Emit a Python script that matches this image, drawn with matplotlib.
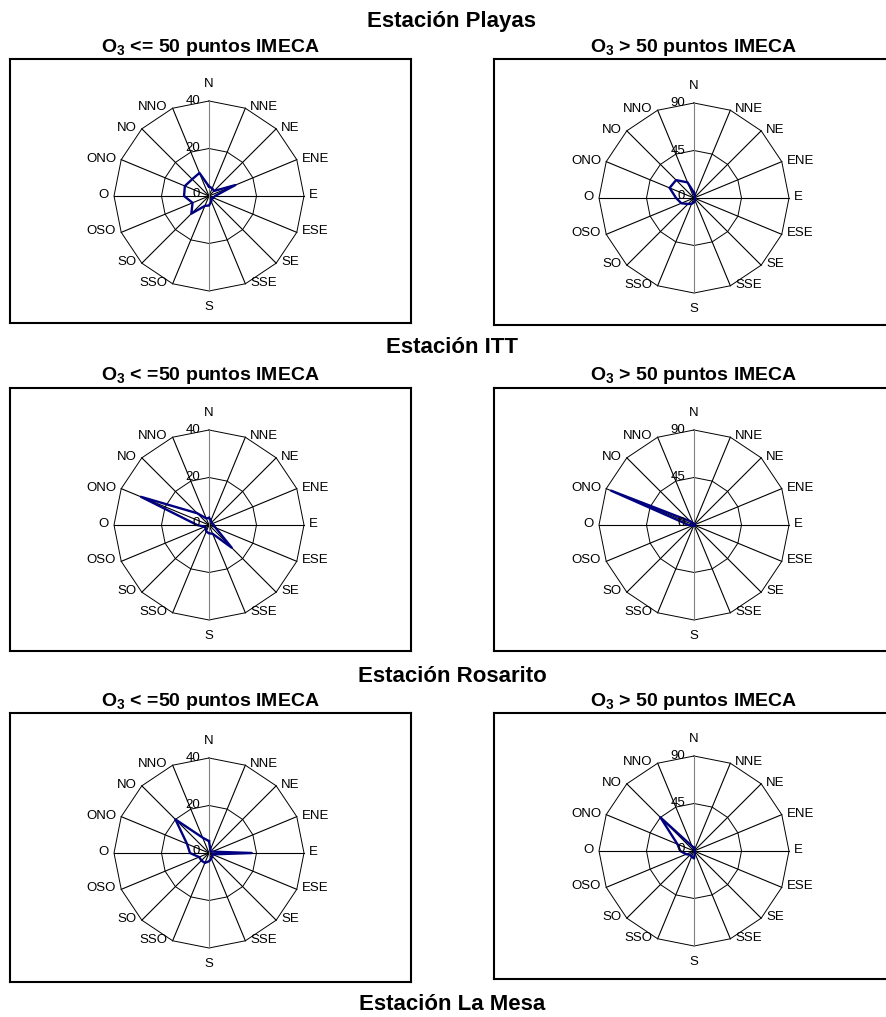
"""
Rosas de viento de O3 por estación (IMECA)
genera out.png
"""
import numpy as np
import matplotlib
matplotlib.use("Agg")
import matplotlib.pyplot as plt

plt.rcParams['font.family'] = ['Liberation Sans', 'DejaVu Sans']
plt.rcParams['mathtext.default'] = 'regular'

W, H = 886, 1017

DIRECCIONES = ["N", "NNE", "NE", "ENE", "E", "ESE", "SE", "SSE",
               "S", "SSO", "SO", "OSO", "O", "ONO", "NO", "NNO"]

ESTACIONES = ["Estación Playas", "Estación ITT", "Estación Rosarito"]
ESTACION_FINAL = "Estación La Mesa"
SUBT_BAJO = ["O$_3$ <= 50 puntos IMECA",
             "O$_3$ < =50 puntos IMECA",
             "O$_3$ < =50 puntos IMECA"]
SUBT_ALTO = "O$_3$ > 50 puntos IMECA"

ESCALA_BAJO = [0, 20, 40]
ESCALA_ALTO = [0, 45, 90]

# frecuencias por dirección (N, NNE, ... NNO)
playas_bajo = [4, 3.5, 3, 12, 2.5, 2, 1.5, 2.5, 4, 4.5, 10.5, 7.5, 10.5, 11, 10, 10.5]
playas_alto = [5, 2, 1, 1, 1, 1, 1, 2, 4, 6, 8, 13, 17, 25, 24, 16]
itt_bajo = [3, 2, 1.5, 1.5, 2, 3, 13.5, 4, 3.5, 3, 2, 2, 5, 31, 7, 3]
itt_alto = [1, 1, 1, 1, 1, 1, 1, 1, 1, 1, 1, 1, 5, 85, 5, 1]
rosarito_bajo = [5, 1.5, 1, 1.5, 18, 1.5, 2, 2.5, 3.5, 4.5, 4.5, 4.5, 8, 10, 20, 7]
rosarito_alto = [3, 1, 1, 1, 1, 1, 1, 2, 7, 6, 5, 8, 13, 17, 45, 5]

DATOS_BAJO = [playas_bajo, itt_bajo, rosarito_bajo]
DATOS_ALTO = [playas_alto, itt_alto, rosarito_alto]


def px_axes(fig, x0, y0, x1, y1, **kw):
    return fig.add_axes([x0 / W, 1 - y1 / H, (x1 - x0) / W, (y1 - y0) / H], **kw)


def marco(fig, x0, y0, x1, y1):
    ax = px_axes(fig, x0, y0, x1, y1)
    ax.set_xticks([])
    ax.set_yticks([])
    for s in ax.spines.values():
        s.set_linewidth(1.5)
        s.set_color("black")
    ax.set_zorder(0)
    return ax


def rosa(fig, cx, cy, valores, escala, r=95):
    ax = px_axes(fig, cx - r, cy - r, cx + r, cy + r, projection="polar")
    ax.set_zorder(1)
    ax.patch.set_alpha(0)
    ax.set_theta_zero_location("N")
    ax.set_theta_direction(-1)
    rmax = escala[-1]
    ax.set_ylim(0, rmax)
    ax.axis("off")

    theta = np.deg2rad(np.arange(len(DIRECCIONES)) * 22.5)
    tc = np.append(theta, theta[0])

    for anillo in escala[1:]:
        ax.plot(tc, [anillo] * len(tc), color="black", lw=0.7, clip_on=False)
    for i, t in enumerate(theta):
        col = "#808080" if i in (0, 8) else "black"
        ax.plot([t, t], [0, rmax], color=col, lw=0.8, clip_on=False,
                zorder=2 if i in (0, 8) else 1.5)

    vals = np.append(valores, valores[0])
    ax.plot(tc, vals, color="#000080", lw=1.7, zorder=3, clip_on=False)

    for i, (t, lab) in enumerate(zip(theta, DIRECCIONES)):
        if i == 0:
            off, ha, va = (0, 11), "center", "bottom"
        elif i == 8:
            off, ha, va = (0, -10), "center", "top"
        elif i < 8:
            off, ha, va = (5, 1), "left", "center"
        else:
            off, ha, va = (-5, 1), "right", "center"
        ax.annotate(lab, xy=(t, rmax), xytext=off, textcoords="offset pixels",
                    ha=ha, va=va, fontsize=9.5, annotation_clip=False)

    for v in escala:
        dy = 2 if v == 0 else 0
        ax.annotate(str(v), xy=(0, v), xytext=(-9, dy), textcoords="offset pixels",
                    ha="right", va="center", fontsize=9.5, annotation_clip=False,
                    zorder=4)
    return ax


def main():
    fig = plt.figure(figsize=(W / 100, H / 100), dpi=100)

    filas = [
        # titulo_y, subt_y, marco izq (y0, y1), marco der (y0, y1), centro izq y, centro der y
        (22, 48, (59, 323), (59, 325), 196, 198),
        (348, 375, (388, 651), (388, 651), 525, 525),
        (676, 702, (713, 982), (713, 979), 853, 851),
    ]

    for k, (ty, sy, mi, md, cyi, cyd) in enumerate(filas):
        fig.text(452 / W, 1 - ty / H, ESTACIONES[k], ha="center", va="center",
                 fontsize=16, fontweight="bold")
        fig.text(210 / W, 1 - sy / H, SUBT_BAJO[k], ha="center", va="center",
                 fontsize=14, fontweight="bold")
        fig.text(694 / W, 1 - sy / H, SUBT_ALTO, ha="center", va="center",
                 fontsize=14, fontweight="bold")
        marco(fig, 10, mi[0], 411, mi[1])
        marco(fig, 494, md[0], 895, md[1])
        rosa(fig, 209, cyi, DATOS_BAJO[k], ESCALA_BAJO)
        rosa(fig, 694, cyd, DATOS_ALTO[k], ESCALA_ALTO)

    fig.text(452 / W, 1 - 1005 / H, ESTACION_FINAL, ha="center", va="center",
             fontsize=16, fontweight="bold")

    fig.savefig("out.png", dpi=100)
    plt.close(fig)


if __name__ == "__main__":
    main()
